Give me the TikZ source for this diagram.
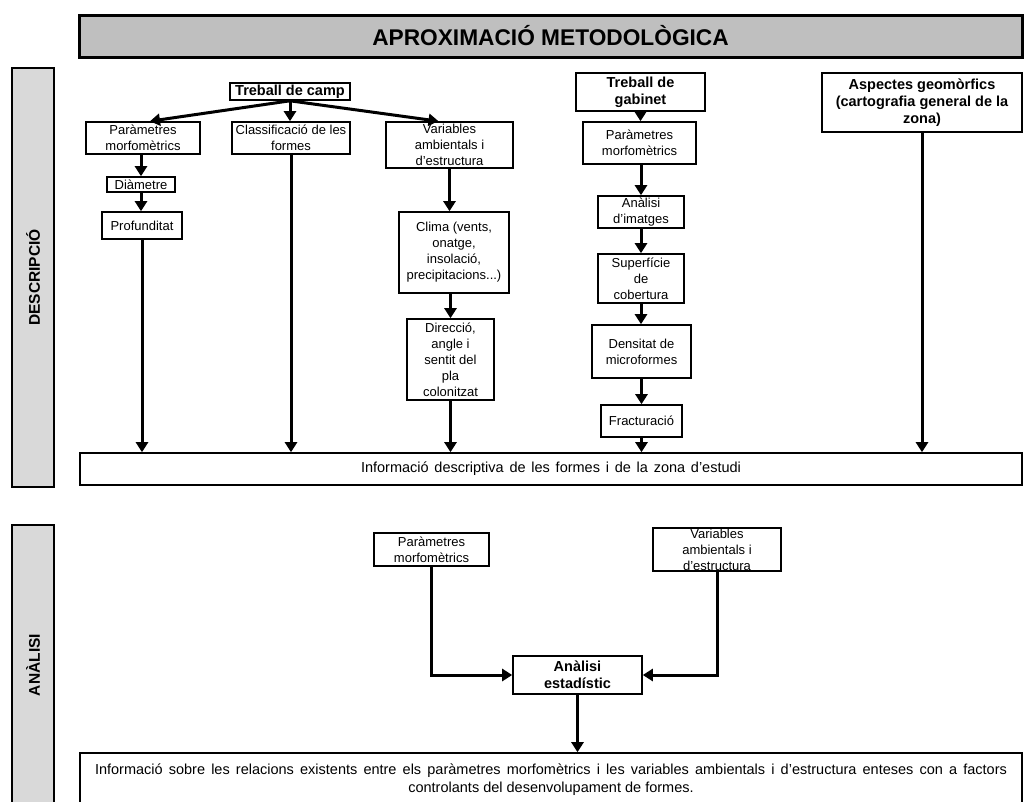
\documentclass[tikz,border=0pt]{standalone}
\usepackage{fontspec}
\setmainfont{Liberation Sans}
\usetikzlibrary{arrows.meta}
\definecolor{titlefill}{RGB}{191,191,191}
\definecolor{barfill}{RGB}{217,217,217}
\tikzset{
	basenode/.style = {
		align=center,
		inner sep=0pt,
		text centered,
		draw=black,
		fill=white,
		line width=1.6pt
	},
	node_s/.style = {
		basenode,
		font=\fontsize{13}{16}\selectfont
	},
	node_bold/.style = {
		basenode,
		font=\fontsize{14.5}{17}\selectfont\bfseries
	},
	node_info/.style = {
		basenode,
		font=\fontsize{14.5}{18}\selectfont
	},
	node_bar/.style = {
		basenode,
		fill=barfill,
		line width=2.4pt,
		font=\fontsize{15.5}{18}\selectfont\bfseries
	},
	node_title/.style = {
		node_bar,
		fill=titlefill,
		line width=3pt,
		font=\fontsize{22.7}{26}\selectfont\bfseries
	},
}

\begin{document}
\begin{tikzpicture}[->,>={Triangle[length=10pt,width=12pt]}, line width=3pt, x=1pt, y=-1pt]
\useasboundingbox (0,0) rectangle (1026,801);

\node [node_title, minimum width=943, minimum height=42] (title) at (550.5,36) {APROXIMACIÓ METODOLÒGICA};
\node [node_bar, rotate=90, minimum width=419, minimum height=42] (desc) at (33,277.5) {DESCRIPCIÓ};
\node [node_bar, rotate=90, minimum width=280, minimum height=42] (ana) at (33,665) {ANÀLISI};

% treball de camp
\node [node_bold, minimum width=120, minimum height=17] (camp) at (290,91.5) {Treball de camp};
\node [node_s, minimum width=114, minimum height=32] (par1) at (143,138) {Paràmetres\\morfomètrics};
\node [node_s, minimum width=118, minimum height=32] (cla) at (291,138) {Classificació de les\\formes};
\node [node_s, minimum width=127, minimum height=46] (var1) at (449.5,145) {Variables\\ambientals i\\d'estructura};
\node [node_s, minimum width=68, minimum height=15] (dia) at (141,184.5) {Diàmetre};
\node [node_s, minimum width=80, minimum height=27] (pro) at (142,225.5) {Profunditat};
\node [node_s, minimum width=110, minimum height=81] (cli) at (454,252.5) {Clima (vents,\\onatge,\\insolació,\\precipitacions...)};
\node [node_s, minimum width=87, minimum height=81] (dir) at (450.5,359.5) {Direcció,\\angle i\\sentit del\\pla\\colonitzat};

% treball de gabinet
\node [node_bold, minimum width=129, minimum height=38] (gab) at (640.5,92) {Treball de\\gabinet};
\node [node_s, minimum width=113, minimum height=42] (par2) at (639.5,143) {Paràmetres\\morfomètrics};
\node [node_s, minimum width=86, minimum height=32] (ima) at (641,212) {Anàlisi\\d'imatges};
\node [node_s, minimum width=86, minimum height=49] (sup) at (641,278.5) {Superfície\\de\\cobertura};
\node [node_s, minimum width=99, minimum height=53] (den) at (641.5,351.5) {Densitat de\\microformes};
\node [node_s, minimum width=81, minimum height=32] (fra) at (641.5,421) {Fracturació};

\node [node_bold, minimum width=200, minimum height=59] (asp) at (922,102.5) {Aspectes geomòrfics\\(cartografia general de la\\zona)};

\node [node_info, minimum width=942, minimum height=32] (inf1) at (551,469) {\makebox[380pt][s]{Informació descriptiva de les formes i de la zona d'estudi}};

% analisi
\node [node_s, minimum width=115, minimum height=33] (par3) at (431.5,549.5) {Paràmetres\\morfomètrics};
\node [node_s, minimum width=128, minimum height=43] (var3) at (717,549.5) {Variables\\ambientals i\\d'estructura};
\node [node_bold, minimum width=129, minimum height=38] (est) at (577.5,675) {Anàlisi\\estadístic};
\node [node_info, minimum width=942, minimum height=54] (inf2) at (551,780) {\makebox[912pt][s]{Informació sobre les relacions existents entre els paràmetres morfomètrics i les variables ambientals i d'estructura enteses con a factors}\\controlants del desenvolupament de formes.};

\draw (camp.south) -- ([xshift=7pt]par1.north);
\draw (camp.south) -- (camp.south |- cla.north);
\draw (camp.south) -- ([xshift=-11pt]var1.north);
\draw (par1.south -| dia.north) -- (dia.north);
\draw (dia.south) -- (dia.south |- pro.north);
\draw (pro.south) -- (pro.south |- inf1.north);
\draw (cla.south) -- (cla.south |- inf1.north);
\draw (var1.south) -- (var1.south |- cli.north);
\draw (cli.south -| dir.north) -- (dir.north);
\draw (dir.south) -- (dir.south |- inf1.north);

\draw (gab.south) -- (gab.south |- par2.north);
\draw (par2.south -| ima.north) -- (ima.north);
\draw (ima.south) -- (ima.south |- sup.north);
\draw (sup.south) -- (sup.south |- den.north);
\draw (den.south) -- (den.south |- fra.north);
\draw (fra.south) -- (fra.south |- inf1.north);
\draw (asp.south) -- (asp.south |- inf1.north);

\draw (par3.south) |- (est.west);
\draw (var3.south) |- (est.east);
\draw (est.south) -- (inf2.north -| est.south);
\end{tikzpicture}
\end{document}
